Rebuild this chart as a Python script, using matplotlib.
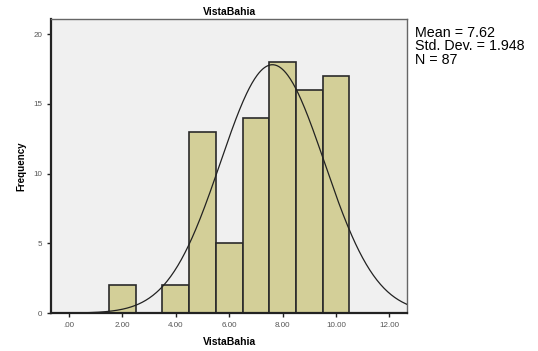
import matplotlib

matplotlib.use("Agg")
import matplotlib.pyplot as plt
import numpy as np

plt.rcParams["font.family"] = ["Liberation Sans", "DejaVu Sans"]

# histogram of VistaBahia scores (bin width 1)
bin_centers = [2, 4, 5, 6, 7, 8, 9, 10]
counts = [2, 2, 13, 5, 14, 18, 16, 17]
mean, sd, n = 7.62, 1.948, 87
xticks = [0, 2, 4, 6, 8, 10, 12]
xtick_labels = [".00", "2.00", "4.00", "6.00", "8.00", "10.00", "12.00"]
yticks = [0, 5, 10, 15, 20]

fig = plt.figure(figsize=(5.38, 3.51), dpi=100)
ax = fig.add_axes([0.095, 0.108, 0.662, 0.838])
ax.set_facecolor("#f0f0f0")

ax.bar(bin_centers, counts, width=1.0, color="#d3cf98", edgecolor="#2a2a2a",
       linewidth=1.2, zorder=2)

# normal curve scaled to counts
xs = np.linspace(-0.67, 12.67, 400)
ys = n * 1.0 / (sd * np.sqrt(2 * np.pi)) * np.exp(-0.5 * ((xs - mean) / sd) ** 2)
ax.plot(xs, ys, color="#222222", lw=0.9, zorder=3)

ax.set_xlim(-0.67, 12.67)
ax.set_ylim(0, 21.1)
ax.set_xticks(xticks, xtick_labels)
ax.set_yticks(yticks)
ax.tick_params(labelsize=5.8, labelcolor="#555555", length=3, width=1,
               color="#222222")
for side in ("left", "bottom"):
    ax.spines[side].set_linewidth(1.6)
    ax.spines[side].set_color("#222222")
for side in ("top", "right"):
    ax.spines[side].set_linewidth(1.0)
    ax.spines[side].set_color("#666666")

ax.set_title("VistaBahia", fontsize=7.5, fontweight="bold", pad=3)
ax.set_xlabel("VistaBahia", fontsize=7.5, fontweight="bold", labelpad=6)
ax.set_ylabel("Frequency", fontsize=7, fontweight="bold", labelpad=5)

fig.text(0.772, 0.925, f"Mean = {mean:.2f}\nStd. Dev. = {sd:.3f}\nN = {n}",
         fontsize=10.3, va="top", ha="left", linespacing=0.92)

fig.savefig("out.png", dpi=100)
